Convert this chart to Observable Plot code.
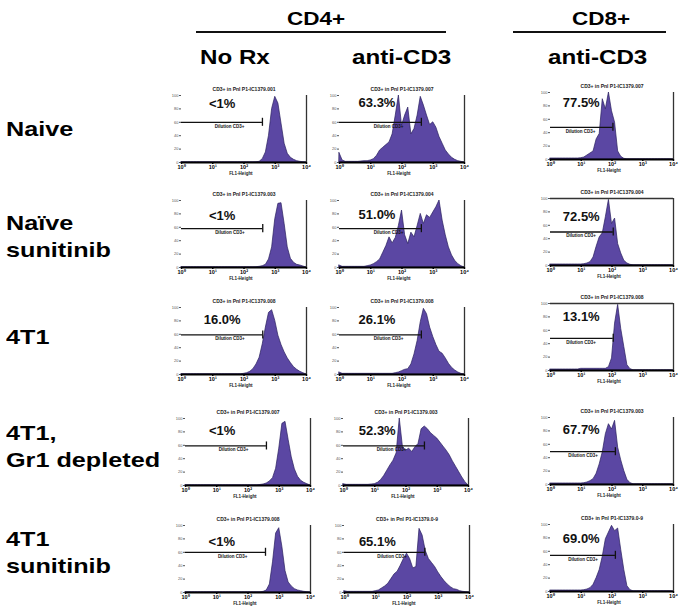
<!DOCTYPE html>
<html><head><meta charset="utf-8">
<script src="https://cdn.jsdelivr.net/npm/d3@7"></script>
<script src="https://cdn.jsdelivr.net/npm/@observablehq/plot@0.6"></script>
<style>
body{margin:0;background:#fff;}
#fig{position:relative;width:685px;height:610px;overflow:hidden;background:#fff;font-family:"Liberation Sans",Arial,sans-serif;}
.t{position:absolute;font-weight:bold;white-space:nowrap;transform-origin:left top;color:#000;}
.hl{position:absolute;height:2px;background:#111;}
.p{position:absolute;}
</style></head><body><div id="fig"></div>
<script>
// ---------- data ----------
const groups = ["CD4+", "CD8+"];
const columns = ["No Rx", "anti-CD3", "anti-CD3"];
const rows = ["Naive", "Naïve\nsunitinib", "4T1", "4T1,\nGr1 depleted", "4T1\nsunitinib"];
const percents = [
  ["<1%", "63.3%", "77.5%"],
  ["<1%", "51.0%", "72.5%"],
  ["16.0%", "26.1%", "13.1%"],
  ["<1%", "52.3%", "67.7%"],
  ["<1%", "65.1%", "69.0%"]
];
// gate upper limit (log decades)
const gateEnds = [
  [2.59, 2.62, 2.03],
  [2.60, 2.62, 2.04],
  [2.60, 2.62, 2.04],
  [2.59, 2.59, 2.11],
  [2.56, 2.57, 2.11]
];
const tickLabels = ["10⁰", "10¹", "10²", "10³", "10⁴"];
const xTicks = [0, 1, 2, 3, 4];
const yTicks = [0, 20, 40, 60, 80, 100];
// histogram grid: log10 fluorescence, 0.0 .. 4.0 in steps of 0.1
const grid = [0,0.1,0.2,0.3,0.4,0.5,0.6,0.7,0.8,0.9,1,1.1,1.2,1.3,1.4,1.5,1.6,1.7,1.8,1.9,2,2.1,2.2,2.3,2.4,2.5,2.6,2.7,2.8,2.9,3,3.1,3.2,3.3,3.4,3.5,3.6,3.7,3.8,3.9,4];
// counts, % of panel maximum
const naiveNoRx = [0.3,0.3,0.3,0.3,0.3,0.3,0.3,0.3,0.3,0.3, 0.3,0.3,0.3,0.3,0.3,0.3,0.3,0.3,0.3,0.3, 0.3,0.3,0.3,0.3,0.5,1,5,15,40,80, 98,88,58,28,13,7,4,2,1,0.5, 0];
const naiveCD4 = [14,3,1,1,1,1,1,1.5,2,2, 3,5,10,18,22,26,30,42,70,100, 55,70,82,42,50,70,98,85,70,56, 60,52,38,28,18,12,7,4,2,1, 0];
const naiveCD8 = [1.5,1.5,1.5,1.5,1.5,1.5,1.5,1.5,1.5,1.5, 2,3,6,9,12,30,38,90,75,100, 72,55,12,4,1,0.3,0.3,0.3,0.3,0.3, 0.3,0.3,0.3,0.3,0.3,0.3,0.3,0.3,0.3,0.3, 0];
const sunNoRx = [0.3,0.3,0.3,0.3,0.3,0.3,0.3,0.3,0.3,0.3, 0.3,0.3,0.3,0.3,0.3,0.3,0.3,0.3,0.3,0.3, 0.3,0.3,0.3,0.3,0.5,1,2,4,12,30, 72,95,96,65,30,13,7,4,3,1.5, 0];
const sunCD4 = [3,1,1,1,1,1,1,1,1,2, 3,5,8,12,22,32,45,36,44,62, 85,48,35,52,45,62,80,65,78,74, 82,90,100,70,48,30,18,10,5,2, 0];
const sunCD8 = [1.5,1.5,1.5,1.5,1.5,1.5,1.5,1.5,1.5,1.5, 1.5,2,3,5,12,28,42,48,72,98, 62,70,32,18,7,3,1,0.3,0.3,0.3, 0.3,0.3,0.3,0.3,0.3,0.3,0.3,0.3,0.3,0.3, 0];
const t1NoRx = [0.3,0.3,0.3,0.3,0.3,0.3,0.3,0.3,0.3,0.3, 0.3,0.3,0.3,0.3,0.3,0.3,0.3,0.3,0.3,0.3, 1,2,4,8,15,25,45,70,92,96, 80,58,44,33,24,17,11,7,4,2, 0];
const t1CD4 = [3,1,1,1,1,1,1,1,1,1, 1,1,1,1,1,1,1,1,2,3, 5,7,8,15,30,50,78,98,90,70, 56,44,34,31,24,16,10,6,3,1, 0];
const t1CD8 = [1.5,1.5,1.5,1.5,1.5,1.5,1.5,1.5,1.5,1.5, 2.5,2.5,2.5,2.5,2.5,2.5,2.5,2.5,2.5,5, 18,70,98,62,35,8,2,0.3,0.3,0.3, 0.3,0.3,0.3,0.3,0.3,0.3,0.3,0.3,0.3,0.3, 0];
const gr1NoRx = [0.3,0.3,0.3,0.3,0.3,0.3,0.3,0.3,0.3,0.3, 0.3,0.3,0.3,0.3,0.3,0.3,0.3,0.3,0.3,0.3, 0.3,0.3,0.3,0.3,0.8,1.5,3,6,11,25, 55,92,95,68,42,24,13,7,4,2, 0];
const gr1CD4 = [2,1,1,1,1,1,1,1,1,1.5, 2,4,8,14,22,30,37,48,100,58, 52,55,50,57,62,84,88,84,78,74, 70,64,58,52,45,36,28,20,12,5, 0];
const gr1CD8 = [1.5,1.5,1.5,1.5,1.5,1.5,1.5,1.5,1.5,1.5, 1.5,2,3,5,8,16,30,48,75,90, 82,95,55,36,20,7,2,0.3,0.3,0.3, 0.3,0.3,0.3,0.3,0.3,0.3,0.3,0.3,0.3,0.3, 0];
const t1SunNoRx = [0.3,0.3,0.3,0.3,0.3,0.3,0.3,0.3,0.3,0.3, 0.3,0.3,0.3,0.3,0.3,0.3,0.3,0.3,0.3,0.3, 0.3,0.3,0.3,0.3,0.3,1,3,12,45,88, 96,68,32,15,9,5,3,2,1,0.5, 0];
const t1SunCD4 = [2,1,1,1,1,1,1,1,1,1, 2,3,6,9,13,20,27,31,40,50, 58,50,36,38,95,85,62,50,44,38, 30,23,17,12,8,5,4,2,1,0.5, 0];
const t1SunCD8 = [1.5,1.5,1.5,1.5,1.5,1.5,1.5,1.5,1.5,1.5, 1.5,2,3,5,10,20,32,52,78,88, 98,90,94,62,32,8,2,0.3,0.3,0.3, 0.3,0.3,0.3,0.3,0.3,0.3,0.3,0.3,0.3,0.3, 0];
const histograms = [
  [naiveNoRx, naiveCD4, naiveCD8],
  [sunNoRx, sunCD4, sunCD8],
  [t1NoRx, t1CD4, t1CD8],
  [gr1NoRx, gr1CD4, gr1CD8],
  [t1SunNoRx, t1SunCD4, t1SunCD8]
];
const fileIds = [["001","007","007"],["003","004","004"],["008","008","008"],["007","003","003"],["008","0-9","0-9"]];

// ---------- layout ----------
const L = {
  base: [[162,267,374,485,592],[162,267,374,485,592],[159,265,370,484,591]],
  left: [[181,181,181,185,185],[339,339,339,343,344],[550,550,550,550,550]],
  plotW: [125,125,123],
  plotH: 67,
  pctX: [[1.3,1.3,1.3,1.17,1.16],[1.2,1.2,1.2,1.08,1.05],[1,1,1,1,1]],
  pctY: [[88,77,82,81,76],[89,78,82,81,76],[84,73,80,82,78]],
  gateY: [[60,58,59,59,60],[60,58,59,59,60],[48,50,48,49,54]],
  boxed: [[false,false,false,false,false],[false,false,false,false,false],[false,true,true,false,false]]
};
const FILL = "#5b47a3", EDGE = "#2a1f5e";
const fig = document.getElementById("fig");

function addText(txt, left, top, fs, sx, lh) {
  const d = document.createElement("div");
  d.className = "t";
  d.style.left = left + "px"; d.style.top = top + "px";
  d.style.fontSize = fs + "px"; d.style.lineHeight = (lh || fs) + "px";
  d.style.transform = `scaleX(${sx})`;
  d.innerHTML = txt.split("\n").join("<br>");
  fig.appendChild(d);
}
function addLine(x1, x2, y) {
  const d = document.createElement("div");
  d.className = "hl";
  d.style.left = x1 + "px"; d.style.width = (x2 - x1) + "px"; d.style.top = y + "px";
  fig.appendChild(d);
}
// headers
addText(groups[0], 287, 9.8, 18, 1.25);
addText(groups[1], 572, 9.8, 18, 1.25);
addLine(196, 446, 31);
addLine(513, 666, 31);
addText(columns[0], 200, 46.2, 21, 1.15);
addText(columns[1], 352, 46.2, 21, 1.15);
addText(columns[2], 548, 46.2, 21, 1.15);
// row labels
const rowTops = [114.7, 208.7, 323.2, 419.2, 524.7];
rows.forEach((r, i) => addText(r, 6, rowTops[i], 21, 1.2, 27));

// panels
const mL = 14, mR = 6, mT = 12, mB = 18;
for (let r = 0; r < rows.length; r++) {
  for (let c = 0; c < 3; c++) {
    const data = histograms[r][c].map((v, i) => ({x: grid[i], y: v}));
    const W = L.plotW[c], H = L.plotH;
    const g = L.gateY[c][r], e = gateEnds[r][c];
    const marks = [
      Plot.areaY(data, {x: "x", y: "y", fill: FILL, stroke: EDGE, strokeWidth: 0.7, curve: "linear"}),
      Plot.axisY({ticks: yTicks, tickSize: 2, tickPadding: 1, fontSize: 4, fill: "#555", stroke: "#555"}),
      Plot.axisX({ticks: xTicks, tickFormat: (d) => tickLabels[d], tickSize: 2, tickPadding: 0.5, fontSize: 5.5, fontWeight: "bold", strokeWidth: 1.5}),
      Plot.ruleY([0], {stroke: "#000", strokeWidth: 2.2}),
      Plot.ruleX([{x: 4, y1: 0, y2: 100}], {x: "x", y1: "y1", y2: "y2", stroke: "#333", strokeWidth: 1.3}),
      Plot.ruleY([{y: g, x1: 0, x2: e}], {y: "y", x1: "x1", x2: "x2", stroke: "#111", strokeWidth: 1.3}),
      Plot.ruleX([{x: e, y1: g - 6, y2: g + 6}], {x: "x", y1: "y1", y2: "y2", stroke: "#111", strokeWidth: 1.3}),
      Plot.text([{x: e - 1.05, y: g, t: "Dilution CD3+"}], {x: "x", y: "y", text: "t", dy: 4, fontSize: 4.5, fontWeight: "bold", fill: "#111"}),
      Plot.text([{x: 2, y: 100, t: "CD3+ in Pnl P1-IC1379." + fileIds[r][c]}], {x: "x", y: "y", text: "t", dy: -6, fontSize: 5, fontWeight: "bold", fill: "#222"}),
      Plot.text([{x: 1.9, y: 0, t: "FL1-Height"}], {x: "x", y: "y", text: "t", dy: 11, fontSize: 4.5, fontWeight: "bold", fill: "#222"}),
      Plot.text([{x: L.pctX[c][r], y: L.pctY[c][r], t: percents[r][c]}], {x: "x", y: "y", text: "t", fontSize: 13, fontWeight: "bold", fill: "#111"})
    ];
    if (L.boxed[c][r]) marks.push(Plot.ruleY([{y: 100, x1: 0, x2: 4}], {y: "y", x1: "x1", x2: "x2", stroke: "#333", strokeWidth: 1.3}));
    const svg = Plot.plot({
      width: W + mL + mR, height: H + mT + mB,
      marginLeft: mL, marginRight: mR, marginTop: mT, marginBottom: mB,
      x: {domain: [0, 4], axis: null},
      y: {domain: [0, 100], axis: null},
      style: {fontFamily: "Liberation Sans, Arial, sans-serif", background: "transparent", overflow: "visible"},
      marks
    });
    const wrap = document.createElement("div");
    wrap.className = "p";
    wrap.style.left = (L.left[c][r] - mL) + "px";
    wrap.style.top = (L.base[c][r] - H - mT) + "px";
    wrap.appendChild(svg);
    fig.appendChild(wrap);
  }
}
</script></body></html>
